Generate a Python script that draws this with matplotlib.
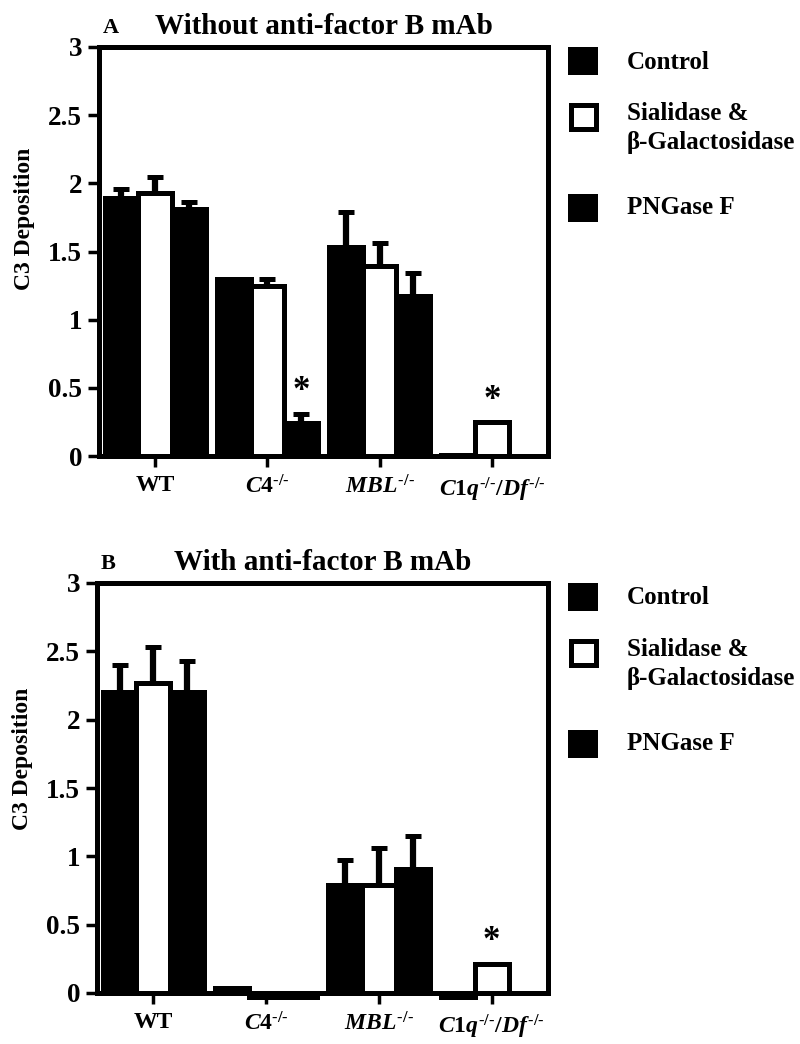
import matplotlib
matplotlib.use('Agg')

import matplotlib.pyplot as plt
from matplotlib.patches import Rectangle
import numpy as np

plt.rcParams['font.family'] = ['Liberation Serif', 'DejaVu Serif']
plt.rcParams['font.weight'] = 'bold'
plt.rcParams['mathtext.fontset'] = 'custom'
plt.rcParams['mathtext.rm'] = 'Liberation Serif:bold'
plt.rcParams['mathtext.it'] = 'Liberation Serif:italic:bold'
plt.rcParams['mathtext.bf'] = 'Liberation Serif:bold'

# data
groups = ['WT', '$\\mathit{C4}^{\\mathit{\u2010/\u2010}}$',
          '$\\mathit{MBL}^{\\mathit{\u2010/\u2010}}$',
          '$\\mathit{C1q}^{\\mathit{\u2010/\u2010}}\\mathit{/Df}^{\\mathit{\u2010/\u2010}}$']
series = ['Control', 'Sialidase &\n\u03b2-Galactosidase', 'PNGase F']
yticks = [0, 0.5, 1, 1.5, 2, 2.5, 3]
ytick_labels = ['0', '0.5', '1', '1.5', '2', '2.5', '3']

# panel A : without anti-factor B mAb
a_ctrl = [1.89, 1.30, 1.53, 0.01]
a_ctrl_err = [0.07, 0.0, 0.26, 0.0]
a_sial = [1.93, 1.25, 1.39, 0.25]
a_sial_err = [0.12, 0.05, 0.17, 0.0]
a_png = [1.81, 0.24, 1.17, 0.0]
a_png_err = [0.05, 0.07, 0.17, 0.0]
a_stars = [(1, 2), (3, 1)]  # (group, series)

# panel B : with anti-factor B mAb
b_ctrl = [2.20, 0.04, 0.79, -0.03]
b_ctrl_err = [0.20, 0.0, 0.18, 0.0]
b_sial = [2.27, -0.03, 0.79, 0.215]
b_sial_err = [0.26, 0.0, 0.27, 0.0]
b_png = [2.20, -0.03, 0.91, 0.0]
b_png_err = [0.23, 0.0, 0.24, 0.0]
b_stars = [(3, 1)]

W, H = 800, 1044
LW = 3.6
fig = plt.figure(figsize=(W / 100, H / 100), dpi=100)


def fx(x):
    return x / W


def fy(y):
    return 1 - y / H


def panel(rect, letter, title, vals, errs, stars, top_px, ylab_y):
    ax = fig.add_axes(rect)
    x = np.arange(len(groups))
    offs = [-0.3, 0.0, 0.3]
    faces = ['black', 'white', 'black']
    for i in range(3):
        xs = x + offs[i]
        ax.errorbar(xs, vals[i], yerr=[np.zeros(len(groups)), errs[i]],
                    fmt='none', ecolor='black', elinewidth=4.5, capsize=5.5,
                    capthick=LW, zorder=1)
        ax.bar(xs, vals[i], width=0.3, color=faces[i], edgecolor='black',
               linewidth=LW, zorder=2, clip_on=False)
    for g, s in stars:
        top = vals[s][g] + errs[s][g]
        ax.text(g + offs[s], top + 0.16, '*', ha='center', va='center',
                fontsize=25, fontweight='bold')

    ax.set_xlim(-0.5, 3.5)
    ax.set_ylim(0, 3)
    ax.set_xticks(x)
    ax.set_xticklabels(groups, fontsize=17, fontweight='bold')
    ax.set_yticks(yticks)
    ax.set_yticklabels(ytick_labels, fontsize=19.5, fontweight='bold')
    ax.tick_params(axis='y', length=8, width=2.5, pad=4)
    ax.tick_params(axis='x', length=8, width=2.5, pad=6)
    for sp in ax.spines.values():
        sp.set_linewidth(LW)
        sp.set_zorder(3)
    ax.set_ylabel('C3 Deposition', fontsize=17, fontweight='bold')
    ax.yaxis.set_label_coords(-0.143, ylab_y)
    ax.set_title(title, fontsize=21, fontweight='bold', pad=9)
    ax.text(0.008, 1.034, letter, transform=ax.transAxes, fontsize=16,
            fontweight='bold', va='baseline', ha='left')

    # legend
    sq = [(47, 'black'), (103, 'white'), (194, 'black')]
    txt_y = [62, 128, 207]
    for i in range(3):
        y0, fc = sq[i]
        y0 = top_px + y0 - 47
        if fc == 'white':
            r = Rectangle((fx(570.5), fy(y0 + 26)), fx(25), 24 / H,
                          transform=fig.transFigure, facecolor='white',
                          edgecolor='black', linewidth=LW)
        else:
            r = Rectangle((fx(568), fy(y0 + 28)), fx(30), 28 / H,
                          transform=fig.transFigure, facecolor='black',
                          edgecolor='none')
        fig.add_artist(r)
        fig.text(fx(627), fy(top_px + txt_y[i] - 47), series[i], fontsize=18,
                 fontweight='bold', va='center', ha='left', linespacing=1.35)
    return ax


panel([fx(99), fy(456), fx(548 - 99), (456 - 47) / H], 'A',
      'Without anti-factor B mAb',
      [a_ctrl, a_sial, a_png], [a_ctrl_err, a_sial_err, a_png_err],
      a_stars, 47, 0.58)
panel([fx(97), fy(993), fx(548 - 97), (993 - 583) / H], 'B',
      'With anti-factor B mAb',
      [b_ctrl, b_sial, b_png], [b_ctrl_err, b_sial_err, b_png_err],
      b_stars, 583, 0.571)

fig.savefig('out.png', dpi=100)
